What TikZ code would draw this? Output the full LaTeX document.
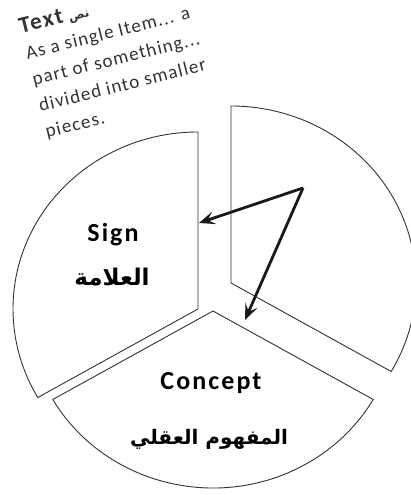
\documentclass[tikz,border=0pt]{standalone}
\usepackage{fontspec}
\setmainfont{Carlito}
\newfontfamily\arabicfont[Script=Arabic]{DejaVu Sans}
\newfontfamily\bodyfont[LetterSpace=6]{Carlito}
\newfontfamily\headfont[LetterSpace=8]{Carlito}
\TeXXeTstate=1
\usetikzlibrary{arrows.meta}
\begin{document}
\begin{tikzpicture}[x=1pt,y=1pt,
  sector/.style={draw=black!80, line width=0.9pt, fill=white},
  link/.style={line width=2.8pt, draw=black!90, -{Stealth[length=16pt,width=13pt,inset=7pt]}},
  note/.style={anchor=base west, rotate=14, inner sep=0pt, align=left, text=black!80, font=\bodyfont\fontsize{19}{27}\selectfont},
  title/.style={inner sep=0pt, font=\headfont\bfseries\fontsize{26}{30}\selectfont},
  artitle/.style={inner sep=0pt, font=\arabicfont\bfseries}]
\useasboundingbox (0,0) rectangle (411,495);
\begin{scope}
\clip (0,0) rectangle (411,495);
% left sector (Sign)
\draw[sector] (198,186) -- ++(0,177) arc[start angle=90,end angle=210,x radius=185,y radius=177] -- cycle;
% right sector
\draw[sector] (231,212) -- ++(160.2,-88.5) arc[start angle=-30,end angle=90,x radius=185,y radius=177] -- cycle;
% bottom sector (Concept)
\draw[sector] (213,184) -- ++(-160.2,-88.5) arc[start angle=210,end angle=330,x radius=185,y radius=177] -- cycle;
\end{scope}
% labels
\node[title] (sign) at (113,260) {Sign};
\node[artitle, font=\arabicfont\bfseries\fontsize{23}{28}\selectfont] (signar) at (112,218) {\beginR العلامة\endR};
\node[title] (concept) at (211,112) {Concept};
\node[artitle, font=\arabicfont\bfseries\fontsize{20}{26}\selectfont] (conceptar) at (209,56) {\beginR المفهوم العقلي\endR};
% top text (anchor is the baseline of its last line)
\node[note] (text) at (47,357) {{\headfont\bfseries\fontsize{23}{27}\selectfont Text} {\arabicfont\bfseries\fontsize{12}{14}\selectfont\beginR نص\endR}\\
As a single Item... a\\
part of something...\\
divided into smaller\\
pieces.};
% arrows
\coordinate (hub) at (303,307);
\coordinate (signedge) at (199,272);
\coordinate (conceptedge) at (245,175);
\draw[link] (hub) -- (signedge);
\draw[link] (hub) -- (conceptedge);
\end{tikzpicture}
\end{document}
